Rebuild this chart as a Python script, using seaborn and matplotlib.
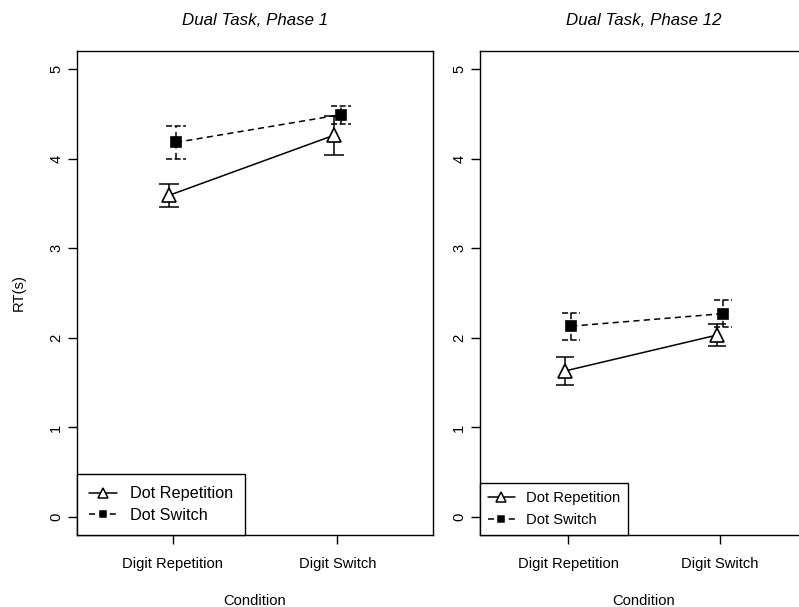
import numpy as np
import pandas as pd
import seaborn as sns
import matplotlib.pyplot as plt
from matplotlib.lines import Line2D

# Mean RT (s) and standard errors
conditions = ['Digit Repetition', 'Digit Switch']
panels = ['Dual Task, Phase 1', 'Dual Task, Phase 12']

phase1_dot_rep = [3.59, 4.26]
phase1_dot_rep_se = [0.13, 0.22]
phase1_dot_sw = [4.18, 4.49]
phase1_dot_sw_se = [0.18, 0.10]

phase12_dot_rep = [1.63, 2.03]
phase12_dot_rep_se = [0.16, 0.12]
phase12_dot_sw = [2.13, 2.27]
phase12_dot_sw_se = [0.15, 0.15]

sns.set_style('ticks')
plt.rcParams['font.family'] = ['Liberation Sans', 'DejaVu Sans']
plt.rcParams.update({'text.color': 'black', 'axes.labelcolor': 'black',
                     'xtick.color': 'black', 'ytick.color': 'black',
                     'axes.edgecolor': 'black'})

DASH = (0, (4, 2.8))
CAP_DASH = (0, (4, 1.6))
series = {
    'Dot Repetition': dict(marker='^', ms=10, lms=7.5, mfc='white', ls='-', cls='-', off=-0.021),
    'Dot Switch': dict(marker='s', ms=6.5, lms=5, mfc='black', ls=DASH, cls=CAP_DASH, off=0.021),
}

fig = plt.figure(figsize=(7.99, 6.07), dpi=100)
ax1 = fig.add_axes([0.0964, 0.1186, 0.4456, 0.7974])
ax2 = fig.add_axes([0.6008, 0.1186, 0.4105, 0.7974])

panel_data = [
    (ax1, {'Dot Repetition': (phase1_dot_rep, phase1_dot_rep_se),
           'Dot Switch': (phase1_dot_sw, phase1_dot_sw_se)},
     dict(fontsize=11.7, borderpad=0.75, labelspacing=0.4, handlelength=1.7, handletextpad=0.8)),
    (ax2, {'Dot Repetition': (phase12_dot_rep, phase12_dot_rep_se),
           'Dot Switch': (phase12_dot_sw, phase12_dot_sw_se)},
     dict(fontsize=10.6, borderpad=0.55, labelspacing=0.55, handlelength=1.8, handletextpad=0.75)),
]

for (ax, data, leg_kw), title in zip(panel_data, panels):
    handles = []
    for name, (means, ses) in data.items():
        st = series[name]
        pos = np.arange(len(conditions)) + st['off']
        m = np.array(means)
        s = np.array(ses)
        # error bars (caps drawn as short horizontal segments so they can be dashed)
        ax.vlines(pos, m - s, m + s, colors='black', linestyles=st['ls'], lw=1.1, zorder=2)
        for lim in (m - s, m + s):
            ax.hlines(lim, pos - 0.06, pos + 0.06, colors='black',
                      linestyles=st['cls'], lw=1.1, zorder=2)
        df = pd.DataFrame({'pos': pos, 'rt': m})
        sns.lineplot(data=df, x='pos', y='rt', ax=ax, color='black', lw=1.1,
                     linestyle=st['ls'], marker=st['marker'], markersize=st['ms'],
                     markerfacecolor=st['mfc'], markeredgecolor='black',
                     markeredgewidth=1.2, errorbar=None, legend=False, zorder=3)
        handles.append(Line2D([], [], color='black', lw=1.1, linestyle=st['ls'],
                              marker=st['marker'], markersize=st['lms'],
                              markerfacecolor=st['mfc'], markeredgecolor='black',
                              markeredgewidth=1.1, label=name))

    ax.set_xlim(-0.58, 1.58)
    ax.set_ylim(-0.2, 5.2)
    ax.set_xticks(range(len(conditions)))
    ax.set_xticklabels(conditions)
    ax.set_yticks(range(6))
    ax.set_yticklabels([str(i) for i in range(6)], rotation=90, va='center')
    ax.tick_params(direction='out', length=6.5, width=1, labelsize=10.6, color='black')
    ax.tick_params(axis='x', pad=9.5)
    ax.tick_params(axis='y', pad=3.5)
    for sp in ax.spines.values():
        sp.set_visible(True)
        sp.set_linewidth(1.0)
        sp.set_color('black')
    ax.set_title(title, fontsize=12.2, style='italic', pad=19)
    ax.set_xlabel('Condition', fontsize=10.6)
    ax.xaxis.set_label_coords(0.5, -0.122)
    ax.set_ylabel('')

    leg = ax.legend(handles=handles, loc='lower left', borderaxespad=0,
                    frameon=True, fancybox=False, edgecolor='black',
                    framealpha=1, numpoints=1, **leg_kw)
    leg.get_frame().set_linewidth(1.0)

ax1.set_ylabel('RT(s)', fontsize=10.6)
ax1.yaxis.set_label_coords(-0.143, 0.5)

fig.savefig('out.png', dpi=100)
